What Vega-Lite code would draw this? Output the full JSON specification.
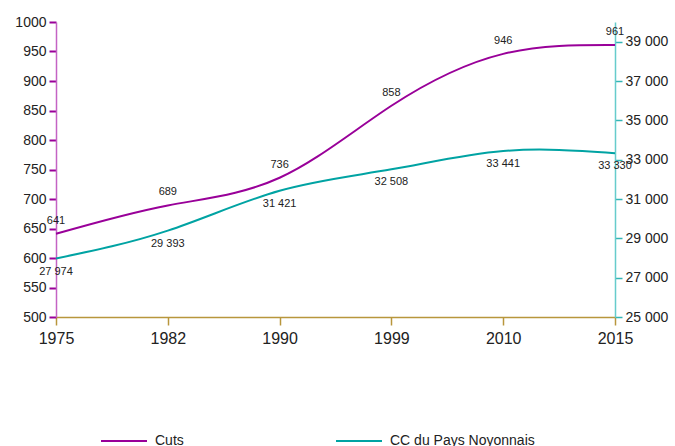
{
  "$schema": "https://vega.github.io/schema/vega-lite/v6.json",
  "width": 559,
  "height": 295,
  "autosize": "none",
  "padding": {"left": 56, "top": 22, "right": 60, "bottom": 129},
  "background": "white",
  "config": {
    "locale": {"number": {"decimal": ",", "thousands": " ", "grouping": [3], "currency": ["", " €"]}},
    "font": "Liberation Sans",
    "view": {"stroke": null},
    "axis": {"labelFont": "Liberation Sans", "labelFontSize": 14, "labelColor": "#222222", "grid": false, "title": null, "labelOverlap": false}
  },
  "data": {"values": [
    {"year": "1975", "cuts": 641, "cc": 27974},
    {"year": "1982", "cuts": 689, "cc": 29393},
    {"year": "1990", "cuts": 736, "cc": 31421},
    {"year": "1999", "cuts": 858, "cc": 32508},
    {"year": "2010", "cuts": 946, "cc": 33441},
    {"year": "2015", "cuts": 961, "cc": 33330}
  ]},
  "encoding": {
    "x": {"field": "year", "type": "ordinal", "scale": {"type": "point", "padding": 0},
      "axis": {"labelAngle": 0, "labelFontSize": 16, "domainColor": "#b8963c", "tickColor": "#b8963c", "tickSize": 8, "labelPadding": 5, "domainWidth": 1.5, "tickWidth": 1.5}}
  },
  "layer": [
    {
      "encoding": {
        "y": {"field": "cuts", "type": "quantitative", "scale": {"domain": [500, 1000], "zero": false, "nice": false},
          "axis": {"orient": "left", "format": "d", "tickCount": 11, "labelOverlap": false, "domainColor": "#c463c4", "tickColor": "#990099", "tickSize": 7, "domainWidth": 1.5, "tickWidth": 2, "labelPadding": 3}}
      },
      "layer": [
        {
          "mark": {"type": "line", "interpolate": "natural", "strokeWidth": 2},
          "encoding": {
            "color": {"datum": "Cuts", "type": "nominal", "scale": {"domain": ["Cuts", "CC du Pays Noyonnais"], "range": ["#990099", "#00a3a3"]},
              "legend": {"orient": "none", "legendX": 44, "legendY": 395, "direction": "horizontal", "title": null, "symbolType": "stroke", "symbolSize": 2116, "symbolStrokeWidth": 2, "labelFontSize": 14, "labelFont": "Liberation Sans", "labelColor": "#222222", "columnPadding": 148, "labelOffset": 7}}
          }
        },
        {
          "mark": {"type": "text", "dy": -13, "fontSize": 11, "color": "#222222"},
          "encoding": {
            "text": {"field": "cuts", "type": "quantitative"}
          }
        }
      ]
    },
    {
      "encoding": {
        "y": {"field": "cc", "type": "quantitative", "scale": {"domain": [25000, 40000], "zero": false},
          "axis": {"orient": "right", "values": [25000,27000,29000,31000,33000,35000,37000,39000], "format": ",d", "domainColor": "#66cccc", "tickColor": "#33b5b5", "tickSize": 7, "domainWidth": 1.5, "tickWidth": 1.5, "labelPadding": 3}}
      },
      "layer": [
        {
          "mark": {"type": "line", "interpolate": "natural", "strokeWidth": 2},
          "encoding": {
            "color": {"datum": "CC du Pays Noyonnais", "type": "nominal"}
          }
        },
        {
          "mark": {"type": "text", "dy": 13, "fontSize": 11, "color": "#222222"},
          "encoding": {
            "text": {"field": "cc", "type": "quantitative", "format": ",d"}
          }
        }
      ]
    }
  ],
  "resolve": {"scale": {"y": "independent"}}
}
